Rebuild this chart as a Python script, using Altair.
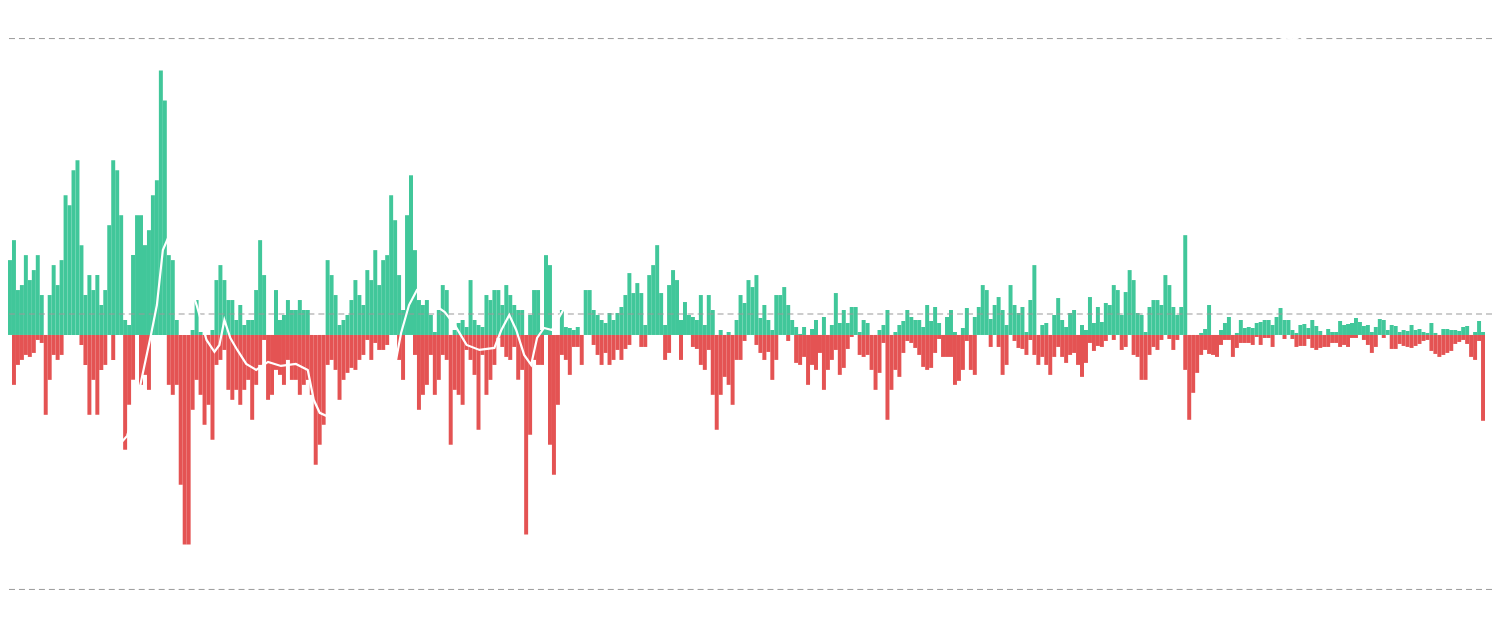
import altair as alt
import pandas as pd

# Daily net flow, aggregated in columns (units)
inflow = [
    75, 95, 45, 50, 80, 55, 65, 80, 40, 0, 40, 70,
    50, 75, 140, 130, 165, 175, 90, 40, 60, 45, 60, 30,
    45, 110, 175, 165, 120, 15, 10, 80, 120, 120, 90, 105,
    140, 155, 265, 235, 80, 75, 15, 0, 0, 0, 5, 35,
    3, 0, 0, 5, 55, 70, 55, 35, 35, 15, 30, 10,
    15, 15, 45, 95, 60, 0, 0, 45, 15, 20, 35, 25,
    25, 35, 25, 25, 0, 0, 0, 0, 75, 60, 40, 10,
    15, 20, 35, 55, 40, 30, 65, 55, 85, 50, 75, 80,
    140, 115, 60, 25, 120, 160, 85, 35, 30, 35, 20, 3,
    25, 50, 45, 0, 5, 12, 15, 8, 55, 15, 10, 8,
    40, 35, 45, 45, 30, 50, 40, 30, 25, 25, 0, 20,
    45, 45, 5, 80, 70, 0, 0, 25, 8, 7, 5, 8,
    0, 45, 45, 25, 20, 15, 12, 22, 15, 22, 28, 40,
    62, 42, 52, 42, 10, 60, 70, 90, 42, 10, 50, 65,
    55, 15, 33, 20, 18, 15, 40, 10, 40, 25, 0, 5,
    0, 3, 0, 15, 40, 32, 55, 48, 60, 17, 30, 15,
    5, 40, 40, 48, 30, 15, 8, 1, 8, 0, 6, 15,
    0, 18, 0, 10, 42, 12, 25, 12, 28, 28, 3, 15,
    12, 0, 0, 5, 10, 25, 0, 3, 10, 14, 25, 18,
    15, 15, 8, 30, 14, 28, 12, 0, 18, 25, 3, 0,
    7, 27, 0, 18, 28, 50, 45, 16, 30, 38, 25, 10,
    50, 30, 22, 28, 3, 35, 70, 0, 10, 12, 0, 20,
    37, 15, 8, 22, 25, 0, 10, 5, 38, 12, 28, 13,
    32, 30, 50, 45, 20, 43, 65, 55, 22, 20, 3, 28,
    35, 35, 30, 60, 50, 28, 20, 28, 100, 0, 0, 0,
    2, 6, 30, 0, 0, 5, 12, 18, 0, 2, 15, 7,
    8, 7, 12, 13, 15, 15, 10, 18, 27, 15, 15, 5,
    2, 10, 11, 7, 15, 9, 4, 0, 6, 3, 3, 14,
    10, 11, 12, 17, 13, 9, 10, 3, 8, 16, 15, 5,
    10, 9, 3, 5, 4, 10, 5, 6, 3, 2, 12, 2,
    0, 6, 6, 5, 5, 4, 8, 9, 0, 3, 14, 3,
]

outflow = [
    0, 50, 30, 25, 20, 22, 18, 5, 8, 80, 45, 20,
    25, 20, 0, 0, 0, 0, 10, 30, 80, 45, 80, 35,
    30, 0, 25, 0, 0, 115, 70, 45, 0, 50, 40, 55,
    0, 0, 0, 0, 50, 60, 50, 150, 210, 210, 75, 45,
    60, 90, 70, 105, 30, 25, 15, 55, 65, 55, 70, 55,
    45, 85, 50, 30, 5, 65, 60, 35, 40, 50, 25, 45,
    45, 60, 50, 45, 60, 130, 110, 90, 30, 25, 35, 65,
    45, 38, 33, 35, 25, 20, 5, 25, 8, 15, 15, 10,
    0, 0, 25, 45, 0, 0, 20, 75, 60, 50, 20, 60,
    45, 20, 25, 110, 55, 60, 70, 15, 25, 40, 95, 20,
    60, 45, 30, 3, 12, 22, 25, 12, 45, 35, 200, 100,
    25, 30, 30, 0, 110, 140, 70, 20, 25, 40, 12, 12,
    30, 0, 0, 10, 20, 30, 18, 30, 25, 15, 25, 14,
    10, 0, 0, 12, 12, 0, 0, 0, 0, 25, 18, 0,
    0, 25, 0, 0, 12, 14, 30, 35, 15, 60, 95, 60,
    42, 50, 70, 25, 25, 6, 0, 0, 10, 18, 25, 17,
    45, 25, 0, 0, 6, 0, 28, 30, 22, 50, 30, 35,
    18, 55, 35, 25, 15, 40, 33, 14, 2, 0, 20, 22,
    20, 35, 55, 38, 8, 85, 55, 35, 42, 18, 6, 8,
    13, 20, 32, 35, 33, 18, 4, 22, 22, 22, 50, 46,
    35, 6, 35, 40, 0, 0, 0, 12, 0, 12, 40, 30,
    0, 6, 13, 14, 20, 5, 20, 30, 22, 30, 40, 22,
    12, 22, 28, 20, 18, 30, 42, 28, 8, 16, 11, 12,
    6, 0, 5, 0, 15, 12, 0, 20, 22, 45, 45, 20,
    12, 15, 5, 0, 4, 15, 5, 0, 35, 85, 58, 38,
    20, 15, 19, 20, 22, 10, 5, 5, 22, 13, 8, 8,
    8, 10, 2, 10, 3, 3, 12, 0, 0, 4, 0, 4,
    12, 11, 11, 4, 13, 15, 13, 12, 12, 8, 8, 12,
    10, 12, 3, 3, 0, 5, 10, 18, 12, 0, 3, 0,
    14, 14, 9, 11, 12, 13, 11, 9, 6, 5, 16, 19,
    22, 20, 18, 16, 9, 7, 5, 9, 22, 25, 6, 86,
]

# Price line (drawn in white), positions on the same column index
line_idx = [
    28.0, 30.0, 32.0, 34.25, 36.0, 37.5, 39.0, 40.5, 42.0, 45.0, 47.5, 50.0,
    52.0, 53.25, 54.5, 56.0, 57.75, 60.0, 62.5, 65.5, 68.75, 72.5, 75.5, 77.0,
    78.5, 81.25, 86.25, 91.25, 95.5, 97.5, 99.0, 101.0, 103.0, 105.0, 107.5, 110.0,
    112.5, 115.5, 118.75, 122.5, 124.25, 126.25, 128.0, 130.0, 131.75, 133.25, 135.0, 137.0,
    141.25, 146.25, 151.25, 156.75, 165.0, 187.5, 225.0, 262.5, 287.5, 310.0, 320.0, 322.0,
    323.75, 325.5, 327.0, 337.5, 355.0, 371.75,
]
line_price = [
    21000, 22300, 26100, 32200, 36950, 41300, 49300, 51300, 50400, 45650, 41300, 36230,
    34500, 35500, 39130, 36500, 34780, 32750, 31880, 33040, 32460, 32750, 31880, 27540,
    25650, 24930, 25510, 26380, 27540, 32610, 37250, 41300, 43480, 43190, 41300, 40290,
    38410, 35510, 34780, 35070, 37680, 39860, 37680, 34060, 32610, 36520, 37970, 37680,
    42030, 45650, 46670, 48260, 54350, 55070, 58700, 61600, 67390, 75070, 79710, 80150,
    79860, 80290, 79570, 72460, 69570, 68120,
]

grid_prices = [0, 40000, 80000]

GREEN = "#41C79A"
RED = "#E45353"

n = len(inflow)
rows = []
for i in range(n):
    rows.append({"x0": i, "x1": i + 1, "v": inflow[i], "kind": "in"})
    rows.append({"x0": i, "x1": i + 1, "v": -outflow[i], "kind": "out"})
bars_df = pd.DataFrame(rows)
bars_df["base"] = 0

line_df = pd.DataFrame({"idx": line_idx, "price": line_price})
grid_df = pd.DataFrame({"price": grid_prices})

x_scale = alt.Scale(domain=[0, 373.76], nice=False, zero=False)
bar_y = alt.Scale(domain=[-290, 327], nice=False, zero=False)
price_y = alt.Scale(domain=[-5072, 84348], nice=False, zero=False)

bars = alt.Chart(bars_df).mark_bar(strokeWidth=0).encode(
    x=alt.X("x0:Q", scale=x_scale, axis=None),
    x2="x1:Q",
    y=alt.Y("v:Q", scale=bar_y, axis=None),
    y2="base:Q",
    color=alt.Color("kind:N", scale=alt.Scale(domain=["in", "out"], range=[GREEN, RED]), legend=None),
)

grid = alt.Chart(grid_df).mark_rule(color="#9a9a9a", strokeWidth=1, strokeDash=[6, 4]).encode(
    y=alt.Y("price:Q", scale=price_y, axis=None),
)

line = alt.Chart(line_df).mark_line(color="white", strokeWidth=2.2, interpolate="linear").encode(
    x=alt.X("idx:Q", scale=x_scale, axis=None),
    y=alt.Y("price:Q", scale=price_y, axis=None),
)

chart = (
    alt.layer(bars, alt.layer(grid, line))
    .resolve_scale(y="independent")
    .properties(width=1487, height=617, padding=0, autosize="none", background="white")
    .configure_view(stroke=None)
)

chart.save("out.html", embed_options={"renderer": "svg", "actions": False})
